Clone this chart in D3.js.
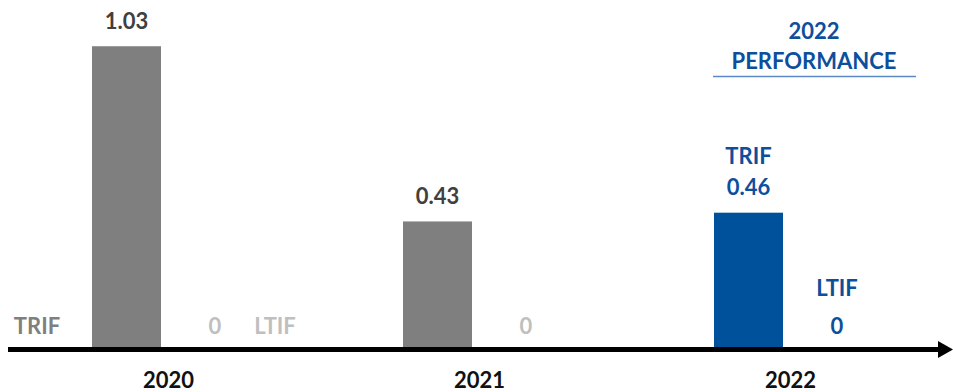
<!DOCTYPE html>
<html>
<head>
<meta charset="utf-8">
<script src="https://cdn.jsdelivr.net/npm/d3@7"></script>
<style>
  html, body { margin: 0; padding: 0; background: #fff; }
  svg { display: block; }
  text { font-family: Lato, "Open Sans", "Liberation Sans", sans-serif; font-weight: 700; }
</style>
</head>
<body>
<svg id="chart" width="953" height="392"></svg>
<script>
// Safety rates per year
const years = ["2020", "2021", "2022"];
const trif = [1.03, 0.43, 0.46];
const ltif = [0, 0, 0];
const trifLabels = ["1.03", "0.43", "0.46"];
const ltifLabels = ["0", "0", "0"];
const highlightTitle = ["2022", "PERFORMANCE"];

const W = 953, H = 392;
const baseY = 347;
const FS = 22;
const grey = "#7f7f7f", blue = "#00519b", lightGrey = "#bfbfbf", darkText = "#404040", blueText = "#0d4f9c";

const svg = d3.select("#chart");

// one band per year
const x = d3.scaleBand().domain(years).range([20, 953]).paddingInner(0);
const barW = 69;
const y = d3.scaleLinear().domain([0, 1]).range([baseY, baseY - 292]);

const data = years.map((yr, i) => ({ year: yr, trif: trif[i], ltif: ltif[i], tl: trifLabels[i], ll: ltifLabels[i], last: i === years.length - 1 }));

const trifX = d => x(d.year) + 72 + barW / 2;
const ltifX = d => x(d.year) + 195;

function label(sel) {
  return sel.attr("text-anchor", "middle").attr("dominant-baseline", "central").attr("font-size", FS);
}

// bars
svg.selectAll("rect.trif").data(data).join("rect")
  .attr("class", "trif")
  .attr("x", d => trifX(d) - barW / 2)
  .attr("width", barW)
  .attr("y", d => y(d.trif))
  .attr("height", d => baseY - y(d.trif))
  .attr("fill", d => d.last ? blue : grey);

// value labels above the bars
svg.selectAll("text.tv").data(data).join("text")
  .attr("class", "tv")
  .attr("x", trifX)
  .attr("y", d => y(d.trif) - 26)
  .call(label)
  .attr("fill", d => d.last ? blueText : darkText)
  .text(d => d.tl);

// LTIF zero labels
svg.selectAll("text.lv").data(data).join("text")
  .attr("class", "lv")
  .attr("x", ltifX)
  .attr("y", d => y(d.ltif) - 22)
  .call(label)
  .attr("fill", d => d.last ? blueText : lightGrey)
  .text(d => d.ll);

// indicator names
const first = data[0], last = data[data.length - 1];
svg.append("text").attr("x", 37).attr("y", 325).call(label)
  .attr("fill", grey).text("TRIF");
svg.append("text").attr("x", ltifX(first) + 60).attr("y", 325).call(label)
  .attr("fill", lightGrey).text("LTIF");
svg.append("text").attr("x", trifX(last)).attr("y", y(last.trif) - 57).call(label)
  .attr("fill", blueText).text("TRIF");
svg.append("text").attr("x", ltifX(last)).attr("y", y(last.ltif) - 60).call(label)
  .attr("fill", blueText).text("LTIF");

// year labels under the axis
svg.selectAll("text.yr").data(data).join("text")
  .attr("class", "yr")
  .attr("x", d => trifX(d) + 42)
  .attr("y", 379)
  .call(label)
  .attr("fill", "#111")
  .text(d => d.year);

// axis with arrow head
svg.append("line")
  .attr("x1", 8).attr("x2", 942)
  .attr("y1", baseY + 2.5).attr("y2", baseY + 2.5)
  .attr("stroke", "#000").attr("stroke-width", 5);
svg.append("path")
  .attr("d", `M938,${baseY - 6} L953,${baseY + 2.5} L938,${baseY + 11} Z`)
  .attr("fill", "#000");

// highlight heading
const hx = 814;
svg.selectAll("text.head").data(highlightTitle).join("text")
  .attr("class", "head")
  .attr("x", hx)
  .attr("y", (d, i) => 30 + i * 30)
  .call(label)
  .attr("fill", blueText)
  .text(d => d);
svg.append("line")
  .attr("x1", 713).attr("x2", 916)
  .attr("y1", 76.5).attr("y2", 76.5)
  .attr("stroke", "#5b88c6").attr("stroke-width", 1.5);
</script>
</body>
</html>
